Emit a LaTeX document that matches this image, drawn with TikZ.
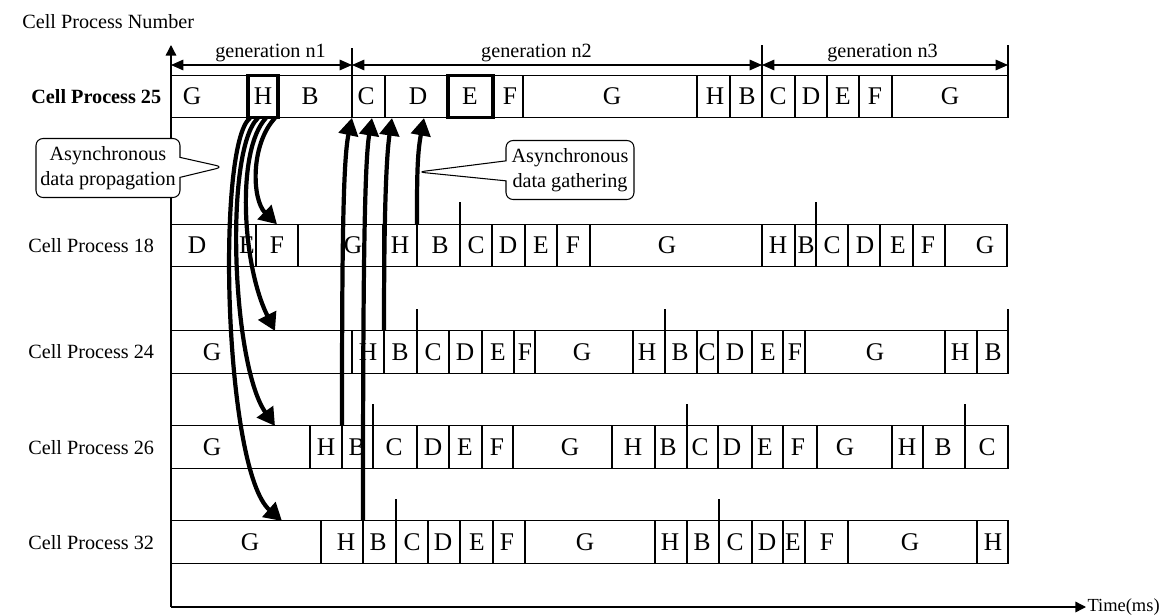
\documentclass[tikz,border=0pt]{standalone}
\usepackage{fontspec}
\setmainfont{Liberation Serif}
\usetikzlibrary{arrows.meta,shapes.callouts}

\begin{document}
\begin{tikzpicture}[x=0.02cm, y=-0.02cm,
  cellbox/.style={draw, line width=0.6pt, minimum height=0.85cm, inner sep=0pt, outer sep=0pt},
  celltxt/.style={font=\fontsize{14.5}{16}\selectfont, inner sep=0pt},
  rowname/.style={font=\fontsize{11.5}{14}\selectfont, anchor=west, inner sep=0pt},
  genlbl/.style={font=\fontsize{11.5}{14}\selectfont, above, inner sep=1.5pt},
  axis/.style={line width=0.8pt, -{Triangle[length=6pt,width=6pt]}},
  genline/.style={line width=0.6pt, {Triangle[length=7pt,width=6pt]}-{Triangle[length=7pt,width=6pt]}},
  tick/.style={line width=0.6pt},
  hot/.style={line width=1.8pt},
  flow/.style={line width=2.4pt, -{Triangle[length=10pt,width=11pt]}},
  note/.style={rectangle callout, draw, fill=white, line width=0.6pt, rounded corners=4pt, align=center,
    font=\fontsize{11.5}{14.5}\selectfont, inner sep=2pt, callout pointer width=0.4cm}
]
  \useasboundingbox (0,0) rectangle (1161,616);

  % Row names
  \node[rowname] (cpn) at (22,22) {Cell Process Number};
  \node[rowname] (n25) at (31,97)  {\bfseries Cell Process 25};
  \node[rowname] (n18) at (28,246) {Cell Process 18};
  \node[rowname] (n24) at (28,352) {Cell Process 24};
  \node[rowname] (n26) at (28,448) {Cell Process 26};
  \node[rowname] (n32) at (28,543) {Cell Process 32};

  % Cell Process 25
  \foreach \a/\b/\t/\x [count=\i] in {171/248/G/192, 248/278/H/263, 278/352/B/310, 352/385/C/366,
      385/448/D/418, 448/493/E/470, 493/523/F/510, 523/697/G/612, 697/730/H/715, 730/762/B/747,
      762/795/C/778, 795/827/D/811, 827/859/E/843, 859/892/F/875, 892/1008/G/950} {
    \node[cellbox, minimum width={(\b-\a)*0.02cm}] (r25c\i) at ({(\a+\b)/2},96.5) {};
    \node[celltxt] (r25t\i) at (\x,96.5) {\t};
  }
  \draw[hot] (r25c2.north west) rectangle (r25c2.south east);
  \draw[hot] (r25c6.north west) rectangle (r25c6.south east);

  % Cell Process 18
  \foreach \a/\b/\t/\x [count=\i] in {171/237/D/197, 237/256/E/247, 256/298/F/277, 298/383/G/353,
      383/417/H/400, 417/460/B/440, 460/492/C/476, 492/525/D/508, 525/557/E/541, 557/590/F/573,
      590/762/G/667, 762/795/H/778, 795/816/B/806, 816/848/C/832, 848/880/D/865, 880/913/E/898,
      913/945/F/928, 945/1007/G/985} {
    \node[cellbox, minimum width={(\b-\a)*0.02cm}] (r18c\i) at ({(\a+\b)/2},245.5) {};
    \node[celltxt] (r18t\i) at (\x,245.5) {\t};
  }

  % Cell Process 24
  \foreach \a/\b/\t/\x [count=\i] in {171/352/G/212, 352/384/H/368, 384/417/B/400, 417/449/C/433,
      449/482/D/465, 482/514/E/498, 514/535/F/525, 535/633/G/582, 633/665/H/647, 665/697/B/680,
      697/718/C/707, 718/752/D/735, 752/783/E/768, 783/805/F/795, 805/945/G/875, 945/977/H/960,
      977/1008/B/993} {
    \node[cellbox, minimum width={(\b-\a)*0.02cm}] (r24c\i) at ({(\a+\b)/2},352) {};
    \node[celltxt] (r24t\i) at (\x,352) {\t};
  }

  % Cell Process 26
  \foreach \a/\b/\t/\x [count=\i] in {171/310/G/212, 310/342/H/326, 342/373/B/357, 373/417/C/394,
      417/449/D/433, 449/482/E/465, 482/513/F/497, 513/612/G/570, 612/655/H/633, 655/687/B/668,
      687/718/C/700, 718/752/D/732, 752/783/E/765, 783/817/F/798, 817/892/G/845, 892/923/H/907,
      923/965/B/943, 965/1008/C/987} {
    \node[cellbox, minimum width={(\b-\a)*0.02cm}] (r26c\i) at ({(\a+\b)/2},447) {};
    \node[celltxt] (r26t\i) at (\x,447) {\t};
  }

  % Cell Process 32
  \foreach \a/\b/\t/\x [count=\i] in {171/321/G/250, 321/363/H/346, 363/396/B/378, 396/428/C/412,
      428/460/D/443, 460/493/E/477, 493/525/F/507, 525/655/G/585, 655/687/H/670, 687/719/B/702,
      719/752/C/735, 752/783/D/767, 783/805/E/793, 805/848/F/827, 848/977/G/910, 977/1008/H/993} {
    \node[cellbox, minimum width={(\b-\a)*0.02cm}] (r32c\i) at ({(\a+\b)/2},542) {};
    \node[celltxt] (r32t\i) at (\x,542) {\t};
  }

  % Generation ends
  \foreach \c in {r18c7, r18c14, r24c4, r24c10, r26c4, r26c11, r26c18, r32c4, r32c11}
    \draw[tick] (\c.north west) -- ++(0,-22);
  \draw[tick] (r24c17.north east) -- ++(0,-22);

  % Axes
  \coordinate (org) at (171,607);
  \coordinate (tend) at (1086,607);
  \draw[axis] (org) -- (171,45);
  \draw[axis] (org) -- (tend);
  \node[rowname, font=\fontsize{10.5}{13}\selectfont, anchor=east] (tms) at (1160,607) {Time(ms)};

  % Generations
  \coordinate (gb0) at (171,65);
  \coordinate (gb1) at (352,65);
  \coordinate (gb2) at (762,65);
  \coordinate (gb3) at (1008,65);
  \draw[tick] (r25c4.south west) -- ++(0,-70);
  \draw[tick] (r25c11.south west) -- ++(0,-73);
  \draw[tick] (r25c15.north east) -- ++(0,-30);
  \draw[genline] (gb0) -- node[genlbl, pos=0.55] (gn1) {generation n1} (gb1);
  \draw[genline] (gb1) -- node[genlbl, pos=0.45] (gn2) {generation n2} (gb2);
  \draw[genline] (gb2) -- node[genlbl, pos=0.49] (gn3) {generation n3} (gb3);

  % Callouts
  \coordinate (tipP) at (223,167);
  \coordinate (tipG) at (418,172);
  \node[note, minimum width=2.88cm, minimum height=1.18cm, callout absolute pointer={(tipP)}]
    (cprop) at (108,168) {Asynchronous\\data propagation};
  \node[note, minimum width=2.56cm, minimum height=1.18cm, callout absolute pointer={(tipG)}]
    (cgath) at (570,170) {Asynchronous\\data gathering};

  % Propagation from H
  \coordinate (s18) at (275,118);
  \coordinate (s24) at (266,118);
  \coordinate (s26) at (258,118);
  \coordinate (s32) at (250,118);
  \coordinate (e24) at (275,331);
  \coordinate (e26) at (275,426);
  \coordinate (e32) at (282,521);
  \draw[flow] (s18) .. controls (250,145) and (252,200) .. (r18c3.north);
  \draw[flow] (s24) .. controls (236,150) and (242,265) .. (e24);
  \draw[flow] (s26) .. controls (224,150) and (232,365) .. (e26);
  \draw[flow] (s32) .. controls (216,145) and (224,470) .. (e32);

  % Gathering into C, D
  \coordinate (g32) at (372,118);
  \coordinate (g24) at (392,118);
  \coordinate (g18) at (424,118);
  \draw[flow] (r26c3.north west) .. controls (342,250) and (343,160) .. (r25c4.south west);
  \draw[flow] (r32c3.north west) .. controls (363,300) and (364,165) .. (g32);
  \draw[flow] (r24c3.north west) .. controls (384,250) and (385,165) .. (g24);
  \draw[flow] (r18c6.north west) .. controls (417,180) and (417,155) .. (g18);
\end{tikzpicture}
\end{document}
